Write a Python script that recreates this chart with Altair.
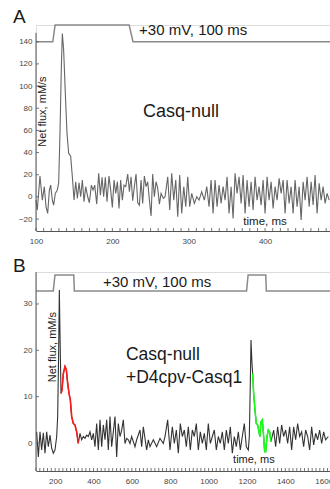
import altair as alt
import pandas as pd

# ---------------- Panel A data (time ms, net flux mM/s) ----------------
a_t = [100, 101.7, 105.2, 108.3, 110.9, 113.1, 115.3, 117.5, 119.2, 121.4, 123.1, 125.3, 127.9, 129.7,
       131.4, 133.2, 134.5, 136.2, 138.4, 140.6, 142.8, 145.4, 147.6, 149.8, 152, 154.2, 156.3, 158.5,
       160.7, 162.9, 165.1, 167.7, 169.9, 172.5, 174.7, 176.9, 179.5, 182.1, 184.3, 186.5, 188.6, 190.8,
       193, 195.6, 197.8, 200, 202.2, 204.4, 206.6, 208.7, 210.9, 213.1, 215.3, 217.5, 220.1, 222.3,
       224.5, 226.6, 228.8, 231, 233.2, 235.4, 237.6, 239.7, 241.9, 244.1, 246.3, 248.5, 250.7, 252.8,
       255, 257.2, 259.4, 261.6, 263.8, 266.8,
       269, 272.5, 275.1, 277.7, 280.4, 283, 285.6, 288.2, 290.8, 293.5, 296.1, 298.7, 301.3, 303.9,
       307.4, 310.5, 313.5, 317, 320.5, 323.6, 326.6, 329.3, 331.9, 334.5, 337.1, 339.7, 342.4, 345,
       347.6, 350.2, 352.8, 355.5, 358.1, 360.7, 363.3, 365.9, 368.6, 371.2, 373.8, 376.4, 379, 381.7,
       384.3, 386.9, 389.5, 392.1, 394.8, 397.4, 400, 402.6, 405.2, 407.9, 410.5, 413.1, 415.7, 418.4,
       421, 423.6, 426.2, 428.8, 431.5, 434.1, 436.7, 439.3, 441.9, 444.6, 447.2, 449.8, 452.4, 455,
       457.7, 460.3, 462.9, 465.5, 468.1, 470.8, 473.4, 476, 478.6, 481.2, 483.9]
a_v = [-2.9, -11.9, 18.8, -2.9, 9.2, -8.9, -14.9, 6.1, 10.6, -2.9, -7.4, 3.1, 6.1, 12.8,
       57.3, 117.4, 147.5, 132.5, 93.4, 57.3, 39.2, 36.8, 18.2, -2.9, 13.7, -1.4, 12.8, 0.1,
       15.2, -4.4, 9.2, 0.1, -5.3, 10.6, 6.1, 10.6, -6.5, 21.2, 1.6, 17.6, 0.1, 17.6,
       -4.4, 18.8, 6.1, -9.5, 15.2, 3.1, 13.7, -10.4, 15.2, -2.9, 10.6, 9.2, 20.6, 4.6,
       18.2, -3.5, 9.2, 20.6, -5.3, -7.4, 15.2, -5.9, 18.8, 9.2, 13.7, -2.9, -17.3, 20.6,
       0.1, 13.7, 7.6, -6.5, 3.1, -1.4,
       0.1, 18.2, -11.9, 21.2, -2.9, 15.2, -17.9, 19.7, -14.9, 9.2, -8.9, 18.2, -8.9, 3.1,
       -5.9, 0.1, -2.9, 4.6, -2.9, 9.2, -8.9, 15.2, -14.9, 15.2, -8.9, 10.7, -5.9, 9.2,
       -2.9, 18.2, -14.9, 9.2, -19.4, 21.2, 3.1, 18.2, -5.9, 19.7, -14.9, 15.2, -8.9, 13.7,
       -11.9, 18.2, -2.9, 9.2, -7.4, 15.2, -14.9, 18.2, -2.9, 13.7, -10.4, 9.2, -2.9, 16.7,
       3.1, 15.2, -14.9, 15.2, -5.9, 9.2, -14.9, 15.2, -8.9, 9.2, -20.9, 13.7, -2.9, 18.2,
       -8.9, 13.7, -7.4, 19.7, -14.9, 12.2, -2.9, 9.2, -5.9, 3.1, -2.9]

a_volt_t = [100, 122, 125, 222, 227, 485]
a_volt_v = [140, 140, 155, 155, 140, 140]

# ---------------- Panel B data ----------------
b_t = [103.5, 112.2, 120.9, 129.5, 138.2, 146.9, 155.6, 164.3, 173, 181.7, 190.4, 199.1, 207.8, 213,
       218.2, 221.7, 225.1, 230.4, 235.6, 242.5, 251.2, 258.2, 265.1, 272.1, 279, 286, 294.7, 303.3,
       312, 320.7, 329.4, 338.1, 346.8, 355.5, 364.2, 372.9, 381.6, 390.2, 398.9, 407.6, 416.3, 425,
       433.7, 442.4, 451.1, 459.8, 468.5, 477.1, 485.8, 494.5, 503.2, 511.9, 520.6, 529.3, 538, 546.7,
       555.4, 564, 572.7, 581.4, 590.1, 598.8, 607.5, 616.2, 624.9, 642.3, 651, 659.6, 677, 685.7,
       694.4, 711.8, 729.2, 746.5, 763.9,
       772.6, 786.5, 798.7, 810.8, 821.3, 831.7, 842.1, 852.5, 863, 873.4, 883.8, 894.3, 904.7, 915.1,
       925.5, 936, 946.4, 956.8, 967.3, 977.7, 988.1, 998.5, 1009, 1019.4, 1029.8, 1040.3, 1050.7,
       1061.1, 1071.5, 1082, 1092.4, 1102.8, 1113.2, 1123.7, 1134.1, 1144.5, 1155, 1165.4, 1175.8,
       1186.2, 1196.7, 1207.1, 1212.3, 1217.5, 1221, 1226.2, 1229.7, 1234.9, 1241.9, 1248.8, 1255.8,
       1262.7, 1267.9, 1273.1, 1280.1, 1287, 1292.3, 1297.5, 1304.4, 1311.4, 1318.3, 1325.3, 1339.2,
       1349.6, 1360, 1370.5, 1380.9, 1391.3, 1401.8, 1412.2, 1422.6, 1433, 1443.5, 1453.9, 1464.3,
       1474.8, 1485.2, 1495.6, 1506, 1516.5, 1526.9, 1537.3, 1547.7, 1558.2, 1568.6, 1579, 1589.5,
       1599.9, 1610.3, 1624.2]
b_v = [2.4, -3.0, 2.4, -1.5, 2.2, -2.2, 2.4, -0.8, 1.7, -1.1, -2.2, -1.5, 1.4, 5.7,
       20.1, 33.0, 23.7, 10.7, 11.4, 15.0, 16.5, 15.8, 12.9, 10.7, 9.3, 5.7, 4.2, 3.9,
       2.4, -0.1, 2.1, 0.7, 1.4, 1.0, 1.7, 1.4, 2.4, 0.7, 2.1, -0.8, 4.2, -1.5,
       5.0, -0.8, 3.9, 0.7, 5.0, -1.5, 5.7, -0.8, 2.4, 5.7, -3.0, 4.2, 1.4, 2.8,
       5.0, -0.1, 1.0, 0.7, -0.1, 1.4, 0.3, -0.8, 0.7, 2.8, -0.8, 3.5, -1.5, 0.7,
       -0.8, 0.7, -0.8, 1.0, -0.1,
       1.4, 5.0, -1.5, 3.5, -0.1, 2.8, -2.2, 4.2, 1.4, 2.8, -0.8, 3.5, -1.5, 2.8,
       1.4, 4.2, -1.5, 2.4, -0.1, 2.1, -1.5, 4.2, -0.1, 1.4, 2.8, -1.5, 1.4,
       -0.1, 2.4, -1.5, 2.8, -0.1, 3.5, -2.2, 1.4, -0.8, 2.4, -1.5, 1.4,
       4.2, -0.8, -1.5, 1.4, 12.9, 22.2, 17.2, 15.0, 10.7, 7.1, 4.2, 3.9,
       2.4, 1.4, 4.6, 5.0, 1.4, -1.9, -1.9, 1.4, 2.8, 2.4, 0.3, 2.8,
       -0.8, 3.5, -0.1, 3.9, 1.4, 2.8, -0.1, 3.5, -1.5, 3.5, 0.7, 4.2,
       1.4, 2.4, -0.8, 2.8, 1.4, -1.5, 3.5, -0.4, 2.1, 0.7, 2.8, -0.1,
       2.4, 0.7, 1.4]
red_range = [230.4, 320.7]
green_range = [1229.7, 1325.3]

b_volt_t = [100, 190, 199, 297, 300, 1198, 1206, 1298, 1301, 1633]
b_volt_v = [32.8, 32.8, 36.25, 36.25, 32.8, 32.8, 36.25, 36.25, 32.8, 32.8]

# axes
A_X = [100, 485]
A_Y = [-30.8, 155.1]
B_X = [100, 1633]
B_Y = [-6.04, 36.9]
a_xlabels = [100, 200, 300, 400]
a_ylabels = [-20, 0, 20, 40, 60, 80, 100, 120, 140]
b_xlabels = [200, 400, 600, 800, 1000, 1200, 1400, 1600]
b_ylabels = [0, 10, 20, 30]
a_minor = list(range(100, 481, 10))
b_minor = list(range(100, 1621, 20))

FONT = "Liberation Sans"
TXT = "#1a1a1a"


def X(f="t:Q"):
    return alt.X(f, title=None)


def Y(f="v:Q"):
    return alt.Y(f, title=None)


def text_layer(t, v, s, size, align="left", baseline="alphabetic", angle=0, color=TXT):
    df = pd.DataFrame({"t": [t], "v": [v], "s": [s]})
    return alt.Chart(df).mark_text(
        align=align, baseline=baseline, fontSize=size, angle=angle, color=color, font=FONT
    ).encode(x=X(), y=Y(), text="s:N")


def panel(t, v, trace_color, volt_t, volt_v, xdom, ydom, w, h, xlabels, ylabels,
          minor, xtick_len, ytick_len, ytop, highlights, texts):
    xs = alt.Scale(domain=xdom, nice=False, zero=False)
    ys = alt.Scale(domain=ydom, nice=False, zero=False)
    df = pd.DataFrame({"t": t, "v": v})
    base = alt.Chart(df).mark_line(color=trace_color, strokeWidth=1.1).encode(
        x=alt.X("t:Q", scale=xs, title=None, axis=alt.Axis(
            values=xlabels, tickCount=50, title=None, tickSize=0, labelFontSize=8, labelColor="#444",
            labelPadding=6, domainColor="#555", domainWidth=1, grid=False, format="d",
            labelFlush=False, labelFont=FONT, labelOverlap=False)),
        y=alt.Y("v:Q", scale=ys, title=None, axis=alt.Axis(
            values=ylabels, tickCount=50, title=None, tickSize=0, labelFontSize=8, labelColor="#444",
            labelPadding=4, domain=False, grid=False, labelFont=FONT, format="d",
            labelOverlap=False, labelBound=False)),
    )
    layers = [base]
    for (lo, hi), col in highlights:
        sub = df[(df.t >= lo) & (df.t <= hi)]
        layers.append(alt.Chart(sub).mark_line(color=col, strokeWidth=1.6).encode(x=X(), y=Y()))
    vdf = pd.DataFrame({"t": volt_t, "v": volt_v})
    layers.append(alt.Chart(vdf).mark_line(color="#8a8a8a", strokeWidth=1.5).encode(x=X(), y=Y()))
    ax = pd.DataFrame({"t": [xdom[0]], "v": [ydom[0]], "v2": [ytop]})
    layers.append(alt.Chart(ax).mark_rule(color="#555", strokeWidth=1).encode(
        x=X(), y=Y(), y2="v2:Q"))
    xt = pd.DataFrame({"t": minor, "v": [ydom[0]] * len(minor), "v2": [ydom[0] + xtick_len] * len(minor)})
    layers.append(alt.Chart(xt).mark_rule(color="#555", strokeWidth=0.8).encode(
        x=X(), y=Y(), y2="v2:Q"))
    yt = pd.DataFrame({"v": ylabels, "t": [xdom[0]] * len(ylabels), "t2": [xdom[0] + ytick_len] * len(ylabels)})
    layers.append(alt.Chart(yt).mark_rule(color="#555", strokeWidth=0.8).encode(
        y=Y(), x=X(), x2="t2:Q"))
    layers += texts
    return alt.layer(*layers).properties(width=w, height=h)


A = panel(a_t, a_v, "#666666", a_volt_t, a_volt_v, A_X, A_Y, 294, 206,
          a_xlabels, a_ylabels, a_minor, 2.7, 3.9, 148, [],
          [
              text_layer(70, 156.8, "A", 19),
              text_layer(235, 146, "+30 mV, 100 ms", 15),
              text_layer(240, 72, "Casq-null", 18),
              text_layer(109.5, 77, "Net flux, mM/s", 11, align="center", baseline="middle", angle=270),
              text_layer(400, -23, "time, ms", 11.5, align="center", baseline="middle"),
          ])

B = panel(b_t, b_v, "#333333", b_volt_t, b_volt_v, B_X, B_Y, 294, 199,
          b_xlabels, b_ylabels, b_minor, 0.65, 15.6, B_Y[1],
          [(red_range, "#ff1a1a"), (green_range, "#1aff1a")],
          [
              text_layer(-20, 36.9, "B", 19),
              text_layer(449, 33.7, "+30 mV, 100 ms", 15),
              text_layer(569, 17.9, "Casq-null", 17.5),
              text_layer(569, 12.9, "+D4cpv-Casq1", 17.5),
              text_layer(190, 20.7, "Net flux, mM/s", 11, align="center", baseline="middle", angle=270),
              text_layer(1236, -3.7, "time, ms", 11, align="center", baseline="middle"),
          ])

chart = alt.vconcat(
    A, B, spacing=41, bounds="flush",
    params=[alt.VariableParameter(name="width", value=294),
            alt.VariableParameter(name="height", value=446)],
).properties(
    autosize=alt.AutoSizeParams(type="none"),
    padding={"left": 36, "top": 25, "right": 0, "bottom": 18},
    background="white",
).configure_view(stroke=None).configure_axis(
    labelOverlap=False
).configure(font=FONT)

chart.save("out.html", embed_options={"renderer": "svg", "actions": False})
